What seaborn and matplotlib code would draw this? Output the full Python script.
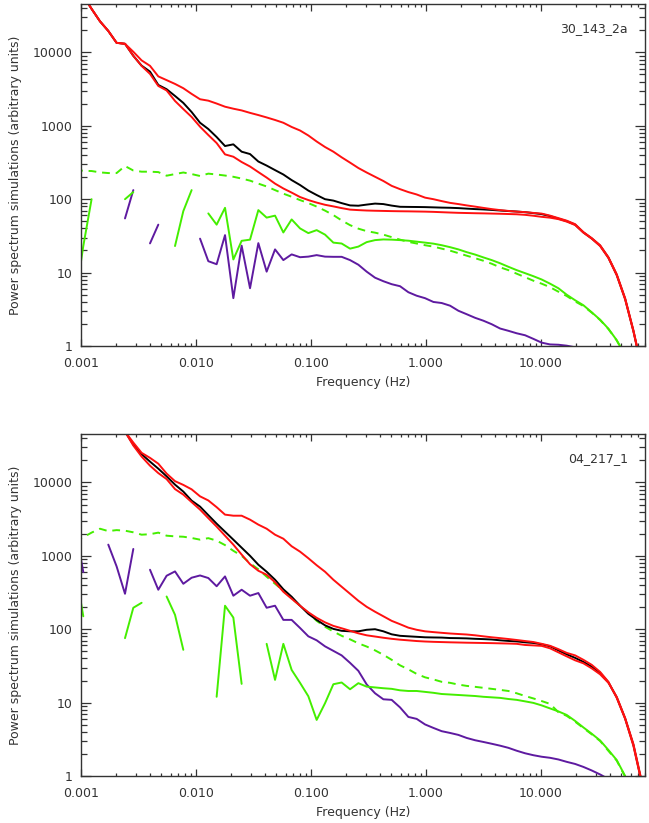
#!/usr/bin/python

# Simulated power spectra for two runs, log-log, IDL look

import numpy as np
import pandas as pd
import seaborn as sns
import matplotlib.pyplot as plt
from matplotlib.ticker import LogLocator, NullFormatter

nan = np.nan

# frequency bins (Hz)
freq = [0.000887, 0.001047, 0.001236, 0.001463, 0.001727, 0.002040, 0.002413, 0.002850,
        0.003365, 0.003981, 0.004700, 0.005550, 0.006567, 0.007754, 0.009157, 0.01084,
        0.01279, 0.01511, 0.01787, 0.02111, 0.02492, 0.02948, 0.03482, 0.04111,
        0.04864, 0.05743, 0.06781, 0.08022, 0.09473, 0.1119, 0.1323, 0.1563,
        0.1845, 0.2183, 0.2578, 0.3044, 0.3601, 0.4253, 0.5022, 0.5941,
        0.7016, 0.8284, 0.9801, 1.158, 1.367, 1.617, 1.910, 2.254,
        2.669, 3.151, 3.720, 4.401, 5.197, 6.136, 7.261, 8.570,
        10.12, 11.97, 14.14, 16.69, 19.75, 23.32, 27.54, 32.58,
        38.48, 45.44, 53.76, 63.47, 74.95]

xtick_values = [0.001, 0.01, 0.1, 1, 10]
xtick_labels = ["0.001", "0.010", "0.100", "1.000", "10.000"]
ytick_values = [1, 10, 100, 1000, 10000]
ytick_labels = ["1", "10", "100", "1000", "10000"]

# ---- top panel: 30_143_2a ----
top_red_hi = [80000, 59000, 39200, 26500, 19600, 13500, 13100, 10200, 7780, 6560, 4710, 4190,
              3720, 3250, 2720, 2300, 2200, 2010, 1820, 1710, 1620, 1500, 1400, 1300,
              1200, 1100, 964, 863, 738, 611, 514, 444, 372, 315, 266, 231,
              202, 177, 152, 137, 125, 116, 105, 100, 94.2, 89.1, 85.8, 82.3,
              79.2, 76.1, 73.3, 71.0, 69.2, 67.7, 66.7, 65.0, 63.6, 59.7, 55.2, 51.0,
              45.7, 35.6, 29.5, 23.6, 16.2, 9.51, 4.48, 1.64, 0.5]
top_red_lo = [80000, 59000, 39200, 26500, 19600, 13500, 13100, 8960, 6540, 5090, 3490, 3030,
              2180, 1690, 1320, 972, 749, 582, 408, 379, 321, 279, 234, 197,
              163, 140, 123, 107, 97.3, 89.9, 83.9, 79.8, 75.6, 72.1, 71.0, 70.1,
              69.6, 69.2, 68.8, 68.5, 68.3, 68.0, 67.7, 67.2, 66.5, 65.8, 65.2, 64.8,
              64.4, 64.1, 63.7, 63.3, 62.8, 62.3, 61.2, 59.5, 57.5, 56.0, 53.5, 49.5,
              44.5, 35.0, 29.0, 23.0, 15.8, 9.2, 4.3, 1.58, 0.48]
top_black = [80000, 59000, 39200, 26500, 19600, 13500, 13100, 9000, 6600, 5470, 3600, 3150,
             2550, 2050, 1540, 1100, 904, 703, 530, 559, 444, 412, 326, 287,
             249, 217, 182, 156, 131, 114, 100, 95.7, 88.4, 82.3, 81.5, 84.4,
             87.1, 85.8, 81.8, 78.8, 78.5, 78.3, 78.0, 77.4, 76.8, 76.4, 75.6, 74.4,
             73.3, 72.5, 71.4, 70.1, 68.9, 67.9, 66.5, 64.6, 62.6, 58.8, 54.3, 50.2,
             45.0, 35.3, 29.2, 23.3, 16.0, 9.3, 4.4, 1.6, 0.5]
top_green_dash = [250, 244, 242, 232, 227, 227, 283, 246, 237, 237, 234, 209,
                  220, 231, 220, 207, 223, 217, 210, 202, 191, 179, 163, 149,
                  133, 119, 108, 97.2, 88.5, 79.3, 69.9, 60.7, 51.4, 44.3, 39.7, 36.7,
                  35.0, 32.9, 30.4, 28.1, 26.2, 24.9, 23.6, 22.6, 21.2, 19.9, 18.4, 17.0,
                  15.7, 14.5, 13.2, 11.8, 10.8, 9.66, 8.65, 7.75, 7.06, 6.32, 5.49, 4.8,
                  4.05, 3.5, 2.85, 2.26, 1.7, 1.19, 0.74, nan, nan]
top_green = [4.0, 23, 100, nan, nan, nan, 100, 125, nan, nan, nan, nan,
             23, 68.8, 133, nan, 64.0, 45.0, 76.3, 15.1, 27.1, 28.1, 71.0, 56.1,
             59.7, 35.2, 53.0, 40.0, 34.5, 37.9, 32.9, 25.6, 24.9, 21.2, 22.6, 26.0,
             27.7, 28.3, 28.1, 27.7, 27.2, 26.4, 25.6, 24.8, 23.6, 22.2, 20.7, 19.0,
             17.6, 16.1, 14.8, 13.4, 12.0, 10.8, 9.82, 8.93, 8.05, 7.06, 6.12, 5.0,
             4.20, 3.59, 2.88, 2.28, 1.72, 1.20, 0.75, nan, nan]
top_purple = [nan, nan, nan, nan, nan, nan, 54.7, 133, nan, 25, 45, nan,
              nan, nan, nan, 29.0, 14.3, 13.0, 32.4, 4.48, 23.3, 6.12, 25.2, 10.3,
              20.7, 14.8, 17.7, 16.2, 16.5, 17.3, 16.5, 16.4, 16.4, 14.8, 12.8, 10.3,
              8.52, 7.63, 6.95, 6.52, 5.40, 4.84, 4.48, 3.98, 3.85, 3.54, 3.02, 2.71,
              2.42, 2.21, 1.98, 1.73, 1.61, 1.49, 1.40, 1.25, 1.11, 1.05, 1.04, 1.01,
              0.96, 0.87, nan, nan, nan, nan, nan, nan, nan]

# ---- bottom panel: 04_217_1 ----
bot_red_hi = [nan, nan, nan, nan, nan, 98000, 49300, 34900, 25300, 21600, 18000, 13200,
              10400, 9250, 8050, 6460, 5680, 4600, 3640, 3520, 3520, 3110, 2660, 2340,
              1940, 1710, 1350, 1140, 927, 744, 607, 472, 379, 304, 244, 202,
              173, 150, 130, 117, 105, 98.2, 93.6, 91.3, 89.3, 87.4, 86.0, 84.7,
              82.6, 80.0, 77.6, 75.6, 73.5, 71.3, 69.0, 66.9, 63.2, 59.4, 53.5, 47.6,
              44.0, 38.3, 32.7, 26.2, 19.2, 11.6, 6.0, 2.57, 0.80]
bot_red_lo = [nan, nan, nan, nan, nan, 98000, 49300, 31800, 22500, 16900, 13400, 11100,
              8110, 6820, 5390, 4260, 3260, 2500, 1880, 1420, 1040, 768, 626, 552,
              436, 324, 260, 209, 170, 143, 124, 111, 103, 95.1, 87.9, 82.6,
              79.5, 76.5, 74.0, 72.0, 70.5, 69.0, 68.0, 67.3, 66.8, 66.3, 65.9, 65.5,
              65.2, 64.9, 64.6, 64.2, 63.8, 63.2, 61.0, 60.2, 59.3, 54.9, 48.4, 42.7,
              37.7, 34.3, 29.3, 24.3, 18.6, 12.0, 6.18, 2.73, 0.85]
bot_black = [nan, nan, nan, nan, nan, 98000, 49300, 32800, 24300, 19200, 15400, 12100,
             9330, 7500, 5650, 4680, 3580, 2740, 2130, 1660, 1290, 1000, 756, 607,
             472, 350, 277, 209, 162, 134, 113, 101, 95.1, 93.6, 93.6, 98.2,
             100, 93.6, 85.2, 81.3, 80.0, 78.8, 77.6, 77.2, 76.9, 75.8, 75.5, 75.0,
             74.0, 73.3, 72.4, 70.6, 69.2, 68.2, 66.3, 65.0, 62.2, 58.5, 51.5, 45.5,
             40.7, 35.9, 30.9, 25.4, 18.9, 11.8, 6.1, 2.65, 0.82]
bot_green_dash = [1560, 1790, 2070, 2340, 2170, 2240, 2200, 2090, 1940, 1970, 2070, 1880,
                  1840, 1820, 1750, 1660, 1740, 1610, 1400, 1170, 1000, 793, 656, 519,
                  416, 334, 264, 209, 167, 130, 108, 93.0, 81.3, 72.8, 64.2, 58.1,
                  51.5, 44.8, 38.3, 32.2, 28.4, 24.6, 22.1, 20.7, 19.2, 18.6, 17.6, 16.9,
                  16.4, 15.9, 15.4, 14.9, 14.4, 13.4, 12.3, 11.4, 10.5, 9.6, 7.4, 6.6,
                  5.5, 4.5, 3.7, 3.0, 2.2, 1.62, 0.98, 0.54, nan]
bot_green = [700, 150, nan, nan, nan, nan, 75.5, 196, 229, nan, nan, 279,
             157, 52.4, nan, nan, nan, 12.0, 209, 144, 18.0, nan, nan, 63.2,
             20.4, 63.2, 27.9, 18.6, 12.2, 5.81, 9.81, 17.8, 18.8, 15.2, 18.4, 16.5,
             16.1, 15.7, 15.4, 14.7, 14.4, 14.4, 14.0, 13.6, 13.1, 12.9, 12.7, 12.5,
             12.3, 12.0, 11.8, 11.6, 11.2, 10.9, 10.4, 9.91, 9.16, 8.33, 7.59, 6.79,
             5.63, 4.59, 3.77, 3.05, 2.26, 1.65, 1.0, 0.55, nan]
bot_purple = [2500, 600, nan, nan, 1420, 717, 304, 1240, nan, 646, 345, 535,
              613, 416, 503, 540, 498, 385, 524, 286, 345, 286, 311, 196,
              209, 134, 134, 104, 80.0, 70.6, 58.4, 50.7, 44.0, 34.8, 27.1, 17.7,
              13.4, 11.1, 10.9, 8.60, 6.38, 6.0, 5.04, 4.52, 4.08, 3.86, 3.63, 3.30,
              3.07, 2.91, 2.75, 2.59, 2.42, 2.21, 2.04, 1.92, 1.83, 1.77, 1.68, 1.56,
              1.46, 1.33, 1.19, 1.05, 0.91, nan, nan, nan, nan]

RED = "#ff1010"
GREEN = "#44ee00"
PURPLE = "#5e1aa0"
TEXT = "#333333"


def segments(values):
    # split a curve into runs without gaps so the gaps stay open
    df = pd.DataFrame({"freq": freq, "power": values})
    df["seg"] = df["power"].isna().cumsum()
    return df.dropna()


def draw_panel(ax, curves, name):
    for values, color, ls in curves:
        sns.lineplot(data=segments(values), x="freq", y="power", units="seg",
                     estimator=None, sort=False, color=color, linestyle=ls,
                     lw=1.4, legend=False, ax=ax)
    ax.set_xscale("log")
    ax.set_yscale("log")
    ax.set_xlim(1e-3, 80)
    ax.set_ylim(1, 4.56e4)
    ax.set_xticks(xtick_values, xtick_labels)
    ax.set_yticks(ytick_values, ytick_labels)
    ax.xaxis.set_minor_locator(LogLocator(base=10, subs=np.arange(2, 10)))
    ax.yaxis.set_minor_locator(LogLocator(base=10, subs=np.arange(2, 10)))
    ax.xaxis.set_minor_formatter(NullFormatter())
    ax.yaxis.set_minor_formatter(NullFormatter())
    ax.tick_params(which="both", direction="in", top=True, right=True,
                   colors=TEXT, labelsize=9, width=0.9)
    ax.tick_params(axis="x", which="major", length=5, pad=8)
    ax.tick_params(axis="x", which="minor", length=2.5)
    ax.tick_params(axis="y", which="major", length=7.5, pad=6)
    ax.tick_params(axis="y", which="minor", length=4)
    for sp in ax.spines.values():
        sp.set_color(TEXT)
        sp.set_linewidth(1.0)
    ax.set_xlabel("Frequency (Hz)", fontsize=9, color=TEXT, labelpad=4)
    ax.set_ylabel("Power spectrum simulations (arbitrary units)", fontsize=9,
                  color=TEXT, labelpad=8)
    ax.text(0.970, 0.927, name, transform=ax.transAxes, ha="right", va="center",
            fontsize=9, color=TEXT)


def main():
    sns.set_theme(style="ticks")
    plt.rcParams["font.family"] = ["DejaVu Sans"]

    fig = plt.figure(figsize=(6.49, 8.23), dpi=100)
    ax1 = fig.add_axes([0.1248, 0.5796, 0.869, 0.4155])
    ax2 = fig.add_axes([0.1248, 0.0571, 0.869, 0.4155])

    dash = (0, (4, 3))
    draw_panel(ax1, [(top_purple, PURPLE, "-"), (top_green, GREEN, "-"),
                     (top_green_dash, GREEN, dash), (top_black, "black", "-"),
                     (top_red_lo, RED, "-"), (top_red_hi, RED, "-")], "30_143_2a")
    draw_panel(ax2, [(bot_purple, PURPLE, "-"), (bot_green, GREEN, "-"),
                     (bot_green_dash, GREEN, dash), (bot_black, "black", "-"),
                     (bot_red_lo, RED, "-"), (bot_red_hi, RED, "-")], "04_217_1")

    fig.savefig("out.png", dpi=100)


if __name__ == "__main__":
    main()
